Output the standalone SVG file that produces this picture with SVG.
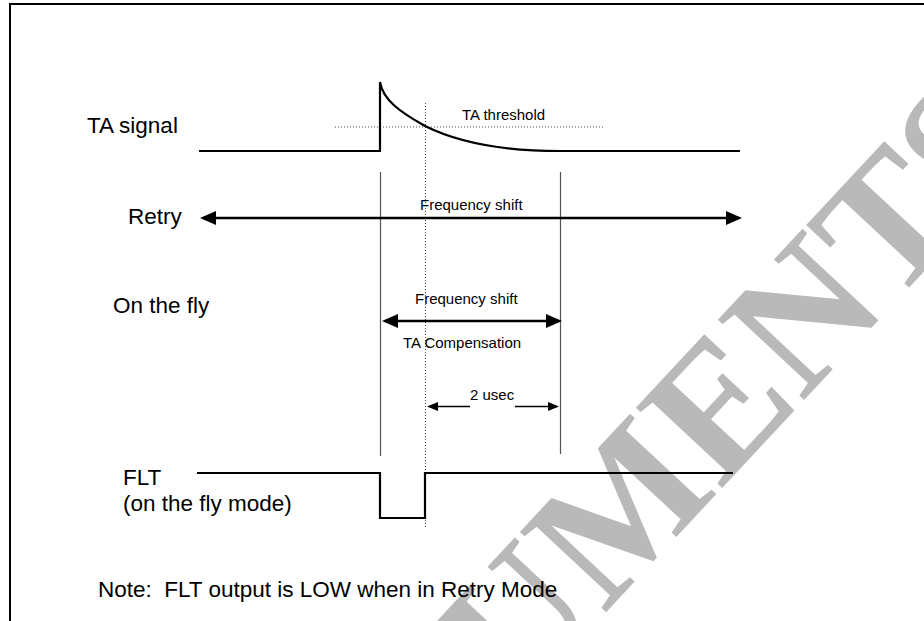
<svg xmlns="http://www.w3.org/2000/svg" width="924" height="621" viewBox="0 0 924 621">
  <style>
    .lbl { font-family: "Liberation Sans", Arial, sans-serif; font-size: 22.5px; fill: #000; }
    .sm { font-family: "Liberation Sans", Arial, sans-serif; font-size: 15px; fill: #000; }
    .sig { fill: none; stroke: #000; stroke-width: 2.2; }
    .guide { fill: none; stroke: #555; stroke-width: 1.2; }
    .dot { fill: none; stroke: #444; stroke-width: 1; stroke-dasharray: 1 2; }
    .arr { fill: none; stroke: #000; stroke-width: 2.6; }
    .arr-thin { fill: none; stroke: #000; stroke-width: 1.3; }
    .wm { font-family: "Liberation Serif", "Times New Roman", serif; font-weight: bold; font-size: 180px; fill: #b9b9b9; }
  </style>
  <defs>
    <marker id="head" viewBox="0 0 16 14" refX="13" refY="7" markerWidth="16" markerHeight="14" markerUnits="userSpaceOnUse" orient="auto-start-reverse">
      <path d="M0,0 L16,7 L0,14 z" fill="#000"/>
    </marker>
    <marker id="head-sm" viewBox="0 0 11 9" refX="9" refY="4.5" markerWidth="11" markerHeight="9" markerUnits="userSpaceOnUse" orient="auto-start-reverse">
      <path d="M0,0 L11,4.5 L0,9 z" fill="#000"/>
    </marker>
  </defs>

  <rect width="924" height="621" fill="#fff"/>

  <!-- background stamp -->
  <text class="wm" x="0" y="0" text-anchor="middle" transform="translate(778,428) rotate(-47)">UMENTS</text>

  <!-- page frame (open on right and bottom) -->
  <path d="M10,621 V4 H924" fill="none" stroke="#000" stroke-width="2"/>

  <!-- timing guides -->
  <g id="guides">
    <line class="guide" x1="380.5" y1="172" x2="380.5" y2="456"/>
    <line class="guide" x1="560.5" y1="172" x2="560.5" y2="454"/>
    <line class="dot" x1="425.5" y1="103" x2="425.5" y2="528"/>
    <line class="dot" x1="335" y1="127" x2="603" y2="127"/>
  </g>

  <!-- TA signal -->
  <g id="ta-signal">
    <text class="lbl" x="87" y="133">TA signal</text>
    <path class="sig" d="M199,151 H380 V82 C383,100 400,112 425,126 C455,141 500,151 560,151 H740"/>
    <text class="sm" x="462" y="120">TA threshold</text>
  </g>

  <!-- Retry -->
  <g id="retry">
    <text class="lbl" x="128" y="224">Retry</text>
    <text class="sm" x="420" y="210">Frequency shift</text>
  </g>

  <!-- On the fly -->
  <g id="on-the-fly">
    <text class="lbl" x="113" y="313">On the fly</text>
    <text class="sm" x="415" y="304">Frequency shift</text>
    <text class="sm" x="403" y="348">TA Compensation</text>
    <text class="sm" x="470" y="400">2 usec</text>
  </g>

  <!-- FLT -->
  <g id="flt">
    <text class="lbl" x="123" y="485">FLT</text>
    <text class="lbl" x="123" y="511">(on the fly mode)</text>
    <path class="sig" d="M197,473 H380 V518 H425 V473 H733"/>
  </g>

  <g id="note">
    <text class="lbl" x="98" y="597" xml:space="preserve">Note:  FLT output is LOW when in Retry Mode</text>
  </g>

  <!-- connectors -->
  <g id="connectors">
    <line class="arr" x1="203" y1="218" x2="739" y2="218" marker-start="url(#head)" marker-end="url(#head)"/>
    <line class="arr" x1="385" y1="321" x2="559" y2="321" marker-start="url(#head)" marker-end="url(#head)"/>
    <line class="arr-thin" x1="429" y1="406.5" x2="470" y2="406.5" marker-start="url(#head-sm)"/>
    <line class="arr-thin" x1="515" y1="406.5" x2="557" y2="406.5" marker-end="url(#head-sm)"/>
  </g>
</svg>
